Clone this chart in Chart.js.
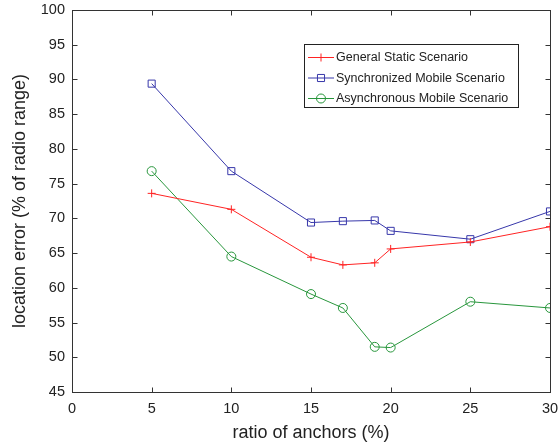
<!DOCTYPE html>
<html>
<head>
<meta charset="utf-8">
<script src="https://cdn.jsdelivr.net/npm/chart.js@4/dist/chart.umd.min.js"></script>
<style>
html,body{margin:0;padding:0;background:#fff;}
#wrap{width:560px;height:446px;position:relative;}
</style>
</head>
<body>
<div id="wrap"><canvas id="c" width="560" height="446"></canvas></div>
<script>
const xValues = [5, 10, 15, 17, 19, 20, 25, 30];
const seriesNames = ['General Static Scenario', 'Synchronized Mobile Scenario', 'Asynchronous Mobile Scenario'];
const generalStatic = [73.6, 71.3, 64.4, 63.3, 63.6, 65.6, 66.6, 68.8];
const syncMobile = [89.4, 76.8, 69.4, 69.6, 69.7, 68.2, 67.0, 71.0];
const asyncMobile = [76.8, 64.5, 59.1, 57.1, 51.5, 51.4, 58.0, 57.1];
const xTicks = [0, 5, 10, 15, 20, 25, 30];
const yTicks = [45, 50, 55, 60, 65, 70, 75, 80, 85, 90, 95, 100];

const colors = ['rgb(255,35,35)', 'rgb(55,55,170)', 'rgb(40,150,60)'];
const markers = ['cross', 'rect', 'circle'];
const radii = [4, 5, 4.5];
const allSeries = [generalStatic, syncMobile, asyncMobile];

const datasets = allSeries.map((vals, i) => ({
  label: seriesNames[i],
  data: xValues.map((x, j) => ({x: x, y: vals[j]})),
  borderColor: colors[i],
  backgroundColor: 'rgba(0,0,0,0)',
  borderWidth: 1,
  pointStyle: markers[i],
  pointRadius: radii[i],
  pointBorderColor: colors[i],
  pointBorderWidth: 1,
  pointBackgroundColor: 'rgba(0,0,0,0)',
  tension: 0,
  fill: false
}));

const framePlugin = {
  id: 'frame',
  afterDraw(chart) {
    const ctx = chart.ctx;
    const a = chart.chartArea;
    const xs = chart.scales.x, ys = chart.scales.y;
    ctx.save();
    ctx.strokeStyle = '#333';
    ctx.lineWidth = 1;
    const L = Math.round(a.left) + 0.5, R = Math.round(a.right) + 0.5;
    const T = Math.round(a.top) + 0.5, B = Math.round(a.bottom) + 0.5;
    ctx.strokeRect(L, T, R - L, B - T);
    const tl = 5;
    ctx.beginPath();
    xTicks.forEach(v => {
      const px = Math.round(xs.getPixelForValue(v)) + 0.5;
      ctx.moveTo(px, B); ctx.lineTo(px, B - tl);
      ctx.moveTo(px, T); ctx.lineTo(px, T + tl);
    });
    yTicks.forEach(v => {
      const py = Math.round(ys.getPixelForValue(v)) + 0.5;
      ctx.moveTo(L, py); ctx.lineTo(L + tl, py);
      ctx.moveTo(R, py); ctx.lineTo(R - tl, py);
    });
    ctx.stroke();

    // legend box
    const bx = 304.5, by = 44.5, bw = 214, bh = 63;
    ctx.fillStyle = '#fff';
    ctx.fillRect(bx, by, bw, bh);
    ctx.strokeStyle = '#222';
    ctx.strokeRect(bx, by, bw, bh);
    ctx.font = '12.5px "Liberation Sans", Arial, sans-serif';
    ctx.textBaseline = 'middle';
    ctx.textAlign = 'left';
    chart.data.datasets.forEach((ds, i) => {
      const cy = 57 + i * 20.5;
      ctx.strokeStyle = ds.borderColor;
      ctx.fillStyle = 'rgba(0,0,0,0)';
      ctx.lineWidth = 1;
      ctx.beginPath();
      ctx.moveTo(308, cy + 0.5); ctx.lineTo(334, cy + 0.5);
      ctx.stroke();
      Chart.helpers.drawPoint(ctx, {pointStyle: ds.pointStyle, radius: ds.pointRadius, borderWidth: 1, rotation: 0}, 321, cy + 0.5);
      ctx.fillStyle = '#222';
      ctx.fillText(ds.label, 336, cy + 1);
    });
    ctx.restore();
  }
};

const tickFont = {family: '"Liberation Sans", Arial, sans-serif', size: 14.5};
const titleFont = {family: '"Liberation Sans", Arial, sans-serif', size: 18};

function zeroPad(s) { s.paddingTop = 0; s.paddingBottom = 0; s.paddingLeft = 0; s.paddingRight = 0; }

new Chart(document.getElementById('c'), {
  type: 'line',
  data: {datasets: datasets},
  options: {
    responsive: false,
    animation: false,
    devicePixelRatio: 1,
    layout: {padding: {top: 10, right: 10, left: 0, bottom: 0}},
    plugins: {legend: {display: false}, tooltip: {enabled: false}},
    scales: {
      x: {
        type: 'linear', min: 0, max: 30,
        afterBuildTicks: s => { s.ticks = xTicks.map(v => ({value: v})); },
        afterFit: s => { s.height = 54; zeroPad(s); },
        grid: {display: false, drawTicks: false},
        border: {display: false},
        ticks: {font: tickFont, color: '#222', padding: 8, maxRotation: 0},
        title: {display: true, text: 'ratio of anchors (%)', font: titleFont, color: '#222', padding: {top: 0, bottom: 2}}
      },
      y: {
        type: 'linear', min: 45, max: 100,
        afterBuildTicks: s => { s.ticks = yTicks.map(v => ({value: v})); },
        afterFit: s => { s.width = 72; zeroPad(s); },
        grid: {display: false, drawTicks: false},
        border: {display: false},
        ticks: {font: tickFont, color: '#222', padding: 7},
        title: {display: true, text: 'location error (% of radio range)', font: titleFont, color: '#222', padding: {top: 9, bottom: 0}}
      }
    }
  },
  plugins: [framePlugin]
});
</script>
</body>
</html>
